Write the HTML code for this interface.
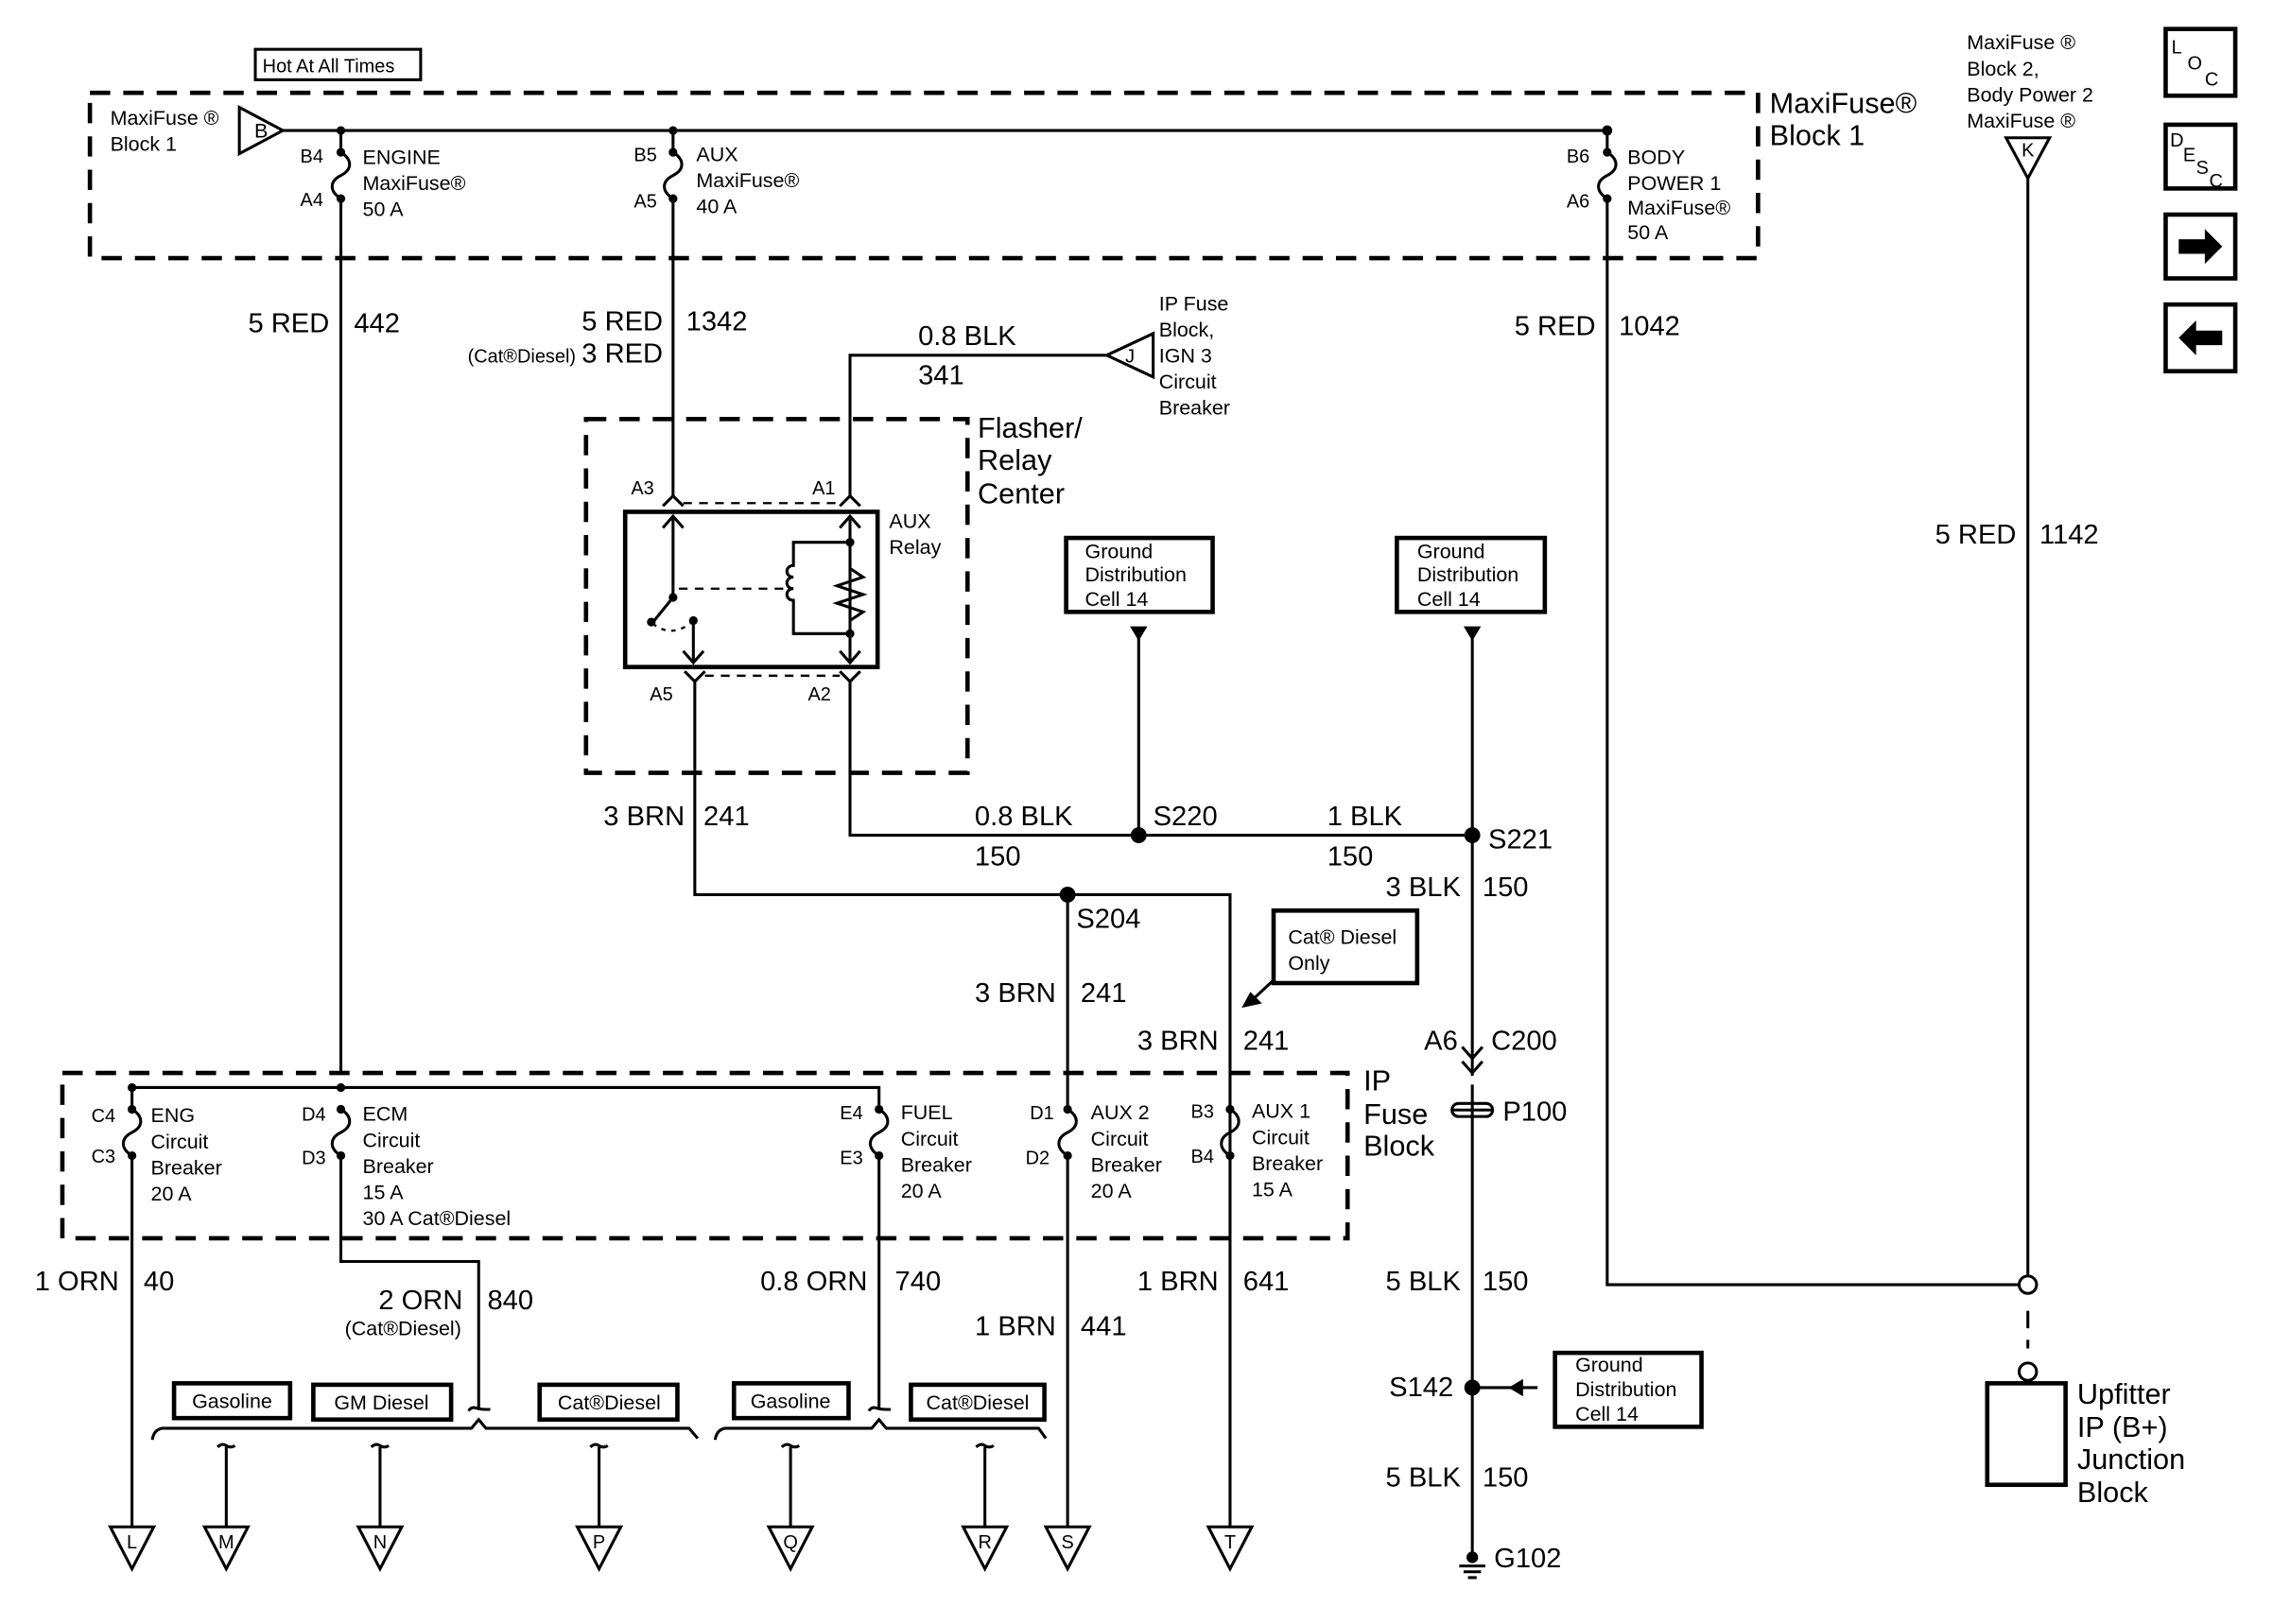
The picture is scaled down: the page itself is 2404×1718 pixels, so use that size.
<!DOCTYPE html>
<html><head><meta charset="utf-8">
<style>
html,body{margin:0;padding:0;background:#fff;}
svg{display:block;}
text{font-family:"Liberation Sans",Arial,sans-serif;fill:#000;}
.L{font-size:19px;}
.M{font-size:14px;}
.S{font-size:13px;}
.T{font-size:20px;}
</style></head><body>
<svg width="2404" height="1718" viewBox="0 0 1567 1120" preserveAspectRatio="none" xmlns="http://www.w3.org/2000/svg">
<rect x="0" y="0" width="1567" height="1120" fill="#fff"/>
<g fill="none" stroke="#000" stroke-width="2">
<rect x="62" y="64" width="1150" height="114" stroke-width="3" stroke-dasharray="14 9"/>
<rect x="404" y="289" width="263" height="244" stroke-width="3" stroke-dasharray="14 9"/>
<rect x="43" y="740" width="886" height="114" stroke-width="3" stroke-dasharray="14 9"/>
<rect x="176" y="34" width="114" height="21"/>
<polygon points="165,74 195,90 165,106"/>
<line x1="195" y1="90" x2="1108" y2="90"/>
<path d="M235,90 V105 c8,5 8,12 0,16 c-8,4 -8,11 0,16 V740"/>
<path d="M464,90 V105 c8,5 8,12 0,16 c-8,4 -8,11 0,16 V343"/>
<path d="M1108,90 V105 c8,5 8,12 0,16 c-8,4 -8,11 0,16 V886 H1392"/>
<path d="M586,343 V245 H763"/>
<polygon points="763,245 795,230 795,260"/>
<path d="M457,349 L464,342 L471,349"/>
<path d="M579,349 L586,342 L593,349"/>
<line x1="471" y1="347" x2="579" y2="347" stroke-dasharray="6 5" stroke-width="1.5"/>
<rect x="431" y="353" width="174" height="107" stroke-width="3"/>
<line x1="464" y1="357" x2="464" y2="412"/>
<path d="M457,364 L464,356 L471,364"/>
<line x1="464" y1="412" x2="451" y2="428"/>
<path d="M450,430 Q462,440 476,430" stroke-dasharray="3 4" stroke-width="1.5"/>
<line x1="478" y1="428" x2="478" y2="457"/>
<path d="M471,449 L478,457 L485,449"/>
<line x1="468" y1="406" x2="540" y2="406" stroke-dasharray="6 5" stroke-width="1.5"/>
<line x1="586" y1="357" x2="586" y2="457"/>
<path d="M579,364 L586,356 L593,364"/>
<path d="M579,449 L586,457 L593,449"/>
<path d="M586,374 H547 V390 c-6,0 -6,8 0,8 c-6,0 -6,8 0,8 c-6,0 -6,8 0,8 V437 H586"/>
<path d="M586,392 L595,398 L577,404 L595,410 L577,416 L595,422 L586,428" fill="none"/>
<path d="M472,463 L479,470 L486,463"/>
<path d="M579,463 L586,470 L593,463"/>
<line x1="486" y1="466" x2="579" y2="466" stroke-dasharray="6 5" stroke-width="1.5"/>
<path d="M479,470 V617 H848 V1053"/>
<path d="M586,470 V576 H1015"/>
<rect x="735" y="371" width="101" height="51" stroke-width="3"/>
<rect x="963" y="371" width="102" height="51" stroke-width="3"/>
<line x1="785" y1="440" x2="785" y2="576"/>
<path d="M1015,440 V742 M1015,748 V1072"/>
<path d="M1008,722 L1015,730 L1022,722 M1008,732 L1015,740 L1022,732"/>
<rect x="1001" y="761" width="28" height="9" rx="4.5"/>
<line x1="1001" y1="765.5" x2="1029" y2="765.5"/>
<line x1="1006" y1="1080" x2="1024" y2="1080"/>
<line x1="1009" y1="1084" x2="1021" y2="1084"/>
<line x1="1012" y1="1088" x2="1018" y2="1088"/>
<rect x="1072" y="933" width="101" height="51" stroke-width="3"/>
<line x1="1015" y1="957" x2="1060" y2="957"/>
<rect x="878" y="628" width="99" height="50" stroke-width="3"/>
<line x1="878" y1="676" x2="864" y2="689"/>
<path d="M91,765 V750 H606 V765"/>
<path d="M91,765 c8,5 8,12 0,16 c-8,4 -8,11 0,16 V1053"/>
<path d="M235,765 c8,5 8,12 0,16 c-8,4 -8,11 0,16 V870 H330 V972"/>
<path d="M606,765 c8,5 8,12 0,16 c-8,4 -8,11 0,16 V972"/>
<path d="M736,617 V765 c8,5 8,12 0,16 c-8,4 -8,11 0,16 V1053"/>
<path d="M848,765 c8,5 8,12 0,16 c-8,4 -8,11 0,16"/>
<path d="M323,973 q2,-3 5,-2 q3,1 7,1 H338"/>
<path d="M599,973 q2,-3 5,-2 q3,1 7,1 H614"/>
<path d="M105,993 Q106,986 112,985 H325 L330,979 L335,985 H475 L481,992"/>
<path d="M493,993 Q494,986 500,985 H601 L606,979 L611,985 H716 L721,992"/>
<rect x="120" y="954" width="80" height="24" stroke-width="3"/>
<rect x="216" y="955" width="95" height="24" stroke-width="3"/>
<rect x="372" y="955" width="95" height="24" stroke-width="3"/>
<rect x="506" y="954" width="79" height="24" stroke-width="3"/>
<rect x="628" y="955" width="92" height="24" stroke-width="3"/>
<path d="M150,998 q3,-3 6,-1 q3,2 6,0 M156,998 V1053"/>
<path d="M256,998 q3,-3 6,-1 q3,2 6,0 M262,998 V1053"/>
<path d="M407,998 q3,-3 6,-1 q3,2 6,0 M413,998 V1053"/>
<path d="M539,998 q3,-3 6,-1 q3,2 6,0 M545,998 V1053"/>
<path d="M673,998 q3,-3 6,-1 q3,2 6,0 M679,998 V1053"/>
<polygon points="76,1053 106,1053 91,1082"/>
<polygon points="141,1053 171,1053 156,1082"/>
<polygon points="247,1053 277,1053 262,1082"/>
<polygon points="398,1053 428,1053 413,1082"/>
<polygon points="530,1053 560,1053 545,1082"/>
<polygon points="664,1053 694,1053 679,1082"/>
<polygon points="721,1053 751,1053 736,1082"/>
<polygon points="833,1053 863,1053 848,1082"/>
<polygon points="1383,95 1413,95 1398,123"/>
<line x1="1398" y1="123" x2="1398" y2="880"/>
<circle cx="1398" cy="886" r="6"/>
<line x1="1398" y1="904" x2="1398" y2="930" stroke-dasharray="12 8"/>
<circle cx="1398" cy="946" r="6"/>
<rect x="1370" y="954" width="54" height="70" stroke-width="3"/>
<rect x="1493" y="20" width="48" height="46" stroke-width="3"/>
<rect x="1493" y="86" width="48" height="44" stroke-width="3"/>
<rect x="1493" y="148" width="48" height="44" stroke-width="3"/>
<rect x="1493" y="210" width="48" height="46" stroke-width="3"/>
</g>
<g fill="#000">
<circle cx="235" cy="90" r="3"/><circle cx="464" cy="90" r="3"/><circle cx="1108" cy="90" r="3.5"/>
<circle cx="235" cy="105" r="3"/><circle cx="235" cy="137" r="3"/>
<circle cx="464" cy="105" r="3"/><circle cx="464" cy="137" r="3"/>
<circle cx="1108" cy="105" r="3"/><circle cx="1108" cy="137" r="3"/>
<circle cx="464" cy="412" r="3"/><circle cx="449" cy="429" r="3"/><circle cx="478" cy="428" r="3"/>
<circle cx="586" cy="374" r="3"/><circle cx="586" cy="437" r="3"/>
<circle cx="785" cy="576" r="5.5"/><circle cx="1015" cy="576" r="5.5"/><circle cx="736" cy="617" r="5.5"/>
<circle cx="1015" cy="957" r="5.5"/><circle cx="1015" cy="1074" r="4"/>
<polygon points="779,432 791,432 785,442"/>
<polygon points="1009,432 1021,432 1015,442"/>
<polygon points="1050,951 1050,963 1040,957"/>
<polygon points="856,695 870,692 862,684"/>
<circle cx="91" cy="750" r="3"/><circle cx="91" cy="797" r="3"/>
<circle cx="235" cy="750" r="3"/><circle cx="235" cy="765" r="3"/><circle cx="235" cy="797" r="3"/>
<circle cx="606" cy="765" r="3"/><circle cx="606" cy="797" r="3"/>
<circle cx="736" cy="765" r="3"/><circle cx="736" cy="797" r="3"/>
<circle cx="848" cy="765" r="3"/><circle cx="848" cy="797" r="3"/>
<circle cx="91" cy="765" r="3"/>
<polygon points="1502,165 1520,165 1520,158 1532,170 1520,182 1520,175 1502,175"/>
<polygon points="1532,228 1514,228 1514,221 1502,233 1514,245 1514,238 1532,238"/>
</g>
<text x="181" y="50" class="S">Hot At All Times</text>
<text x="76" y="86" class="M">MaxiFuse ®</text>
<text x="76" y="104" class="M">Block 1</text>
<text x="180" y="95" class="M" text-anchor="middle">B</text>
<text x="207" y="112" class="S">B4</text><text x="207" y="142" class="S">A4</text>
<text x="250" y="113" class="M">ENGINE</text><text x="250" y="131" class="M">MaxiFuse®</text><text x="250" y="149" class="M">50 A</text>
<text x="437" y="111" class="S">B5</text><text x="437" y="143" class="S">A5</text>
<text x="480" y="111" class="M">AUX</text><text x="480" y="129" class="M">MaxiFuse®</text><text x="480" y="147" class="M">40 A</text>
<text x="1080" y="112" class="S">B6</text><text x="1080" y="143" class="S">A6</text>
<text x="1122" y="113" class="M">BODY</text><text x="1122" y="131" class="M">POWER 1</text><text x="1122" y="148" class="M">MaxiFuse®</text><text x="1122" y="165" class="M">50 A</text>
<text x="1220" y="78" class="T">MaxiFuse®</text><text x="1220" y="100" class="T">Block 1</text>
<text x="227" y="229" class="L" text-anchor="end">5 RED</text><text x="244" y="229" class="L">442</text>
<text x="457" y="228" class="L" text-anchor="end">5 RED</text><text x="473" y="228" class="L">1342</text>
<text x="397" y="250" class="S" text-anchor="end">(Cat®Diesel)</text><text x="457" y="250" class="L" text-anchor="end">3 RED</text>
<text x="1100" y="231" class="L" text-anchor="end">5 RED</text><text x="1116" y="231" class="L">1042</text>
<text x="633" y="238" class="L">0.8 BLK</text><text x="633" y="265" class="L">341</text>
<text x="779" y="250" class="S" text-anchor="middle">J</text>
<text x="799" y="214" class="M">IP Fuse</text><text x="799" y="232" class="M">Block,</text><text x="799" y="250" class="M">IGN 3</text><text x="799" y="268" class="M">Circuit</text><text x="799" y="286" class="M">Breaker</text>
<text x="674" y="302" class="T">Flasher/</text><text x="674" y="324" class="T">Relay</text><text x="674" y="347" class="T">Center</text>
<text x="435" y="341" class="S">A3</text><text x="560" y="341" class="S">A1</text>
<text x="613" y="364" class="M">AUX</text><text x="613" y="382" class="M">Relay</text>
<text x="448" y="483" class="S">A5</text><text x="557" y="483" class="S">A2</text>
<text x="748" y="385" class="M">Ground</text><text x="748" y="401" class="M">Distribution</text><text x="748" y="418" class="M">Cell 14</text>
<text x="977" y="385" class="M">Ground</text><text x="977" y="401" class="M">Distribution</text><text x="977" y="418" class="M">Cell 14</text>
<text x="472" y="569" class="L" text-anchor="end">3 BRN</text><text x="485" y="569" class="L">241</text>
<text x="672" y="569" class="L">0.8 BLK</text><text x="672" y="597" class="L">150</text>
<text x="795" y="569" class="L">S220</text>
<text x="915" y="569" class="L">1 BLK</text><text x="915" y="597" class="L">150</text>
<text x="1026" y="585" class="L">S221</text>
<text x="1007" y="618" class="L" text-anchor="end">3 BLK</text><text x="1022" y="618" class="L">150</text>
<text x="742" y="640" class="L">S204</text>
<text x="888" y="651" class="M">Cat® Diesel</text><text x="888" y="669" class="M">Only</text>
<text x="728" y="691" class="L" text-anchor="end">3 BRN</text><text x="745" y="691" class="L">241</text>
<text x="840" y="724" class="L" text-anchor="end">3 BRN</text><text x="857" y="724" class="L">241</text>
<text x="1005" y="724" class="L" text-anchor="end">A6</text><text x="1028" y="724" class="L">C200</text>
<text x="1036" y="773" class="L">P100</text>
<text x="940" y="752" class="T">IP</text><text x="940" y="775" class="T">Fuse</text><text x="940" y="797" class="T">Block</text>
<text x="63" y="774" class="S">C4</text><text x="63" y="802" class="S">C3</text>
<text x="104" y="774" class="M">ENG</text><text x="104" y="792" class="M">Circuit</text><text x="104" y="810" class="M">Breaker</text><text x="104" y="828" class="M">20 A</text>
<text x="208" y="773" class="S">D4</text><text x="208" y="803" class="S">D3</text>
<text x="250" y="773" class="M">ECM</text><text x="250" y="791" class="M">Circuit</text><text x="250" y="809" class="M">Breaker</text><text x="250" y="827" class="M">15 A</text><text x="250" y="845" class="M">30 A Cat®Diesel</text>
<text x="579" y="772" class="S">E4</text><text x="579" y="803" class="S">E3</text>
<text x="621" y="772" class="M">FUEL</text><text x="621" y="790" class="M">Circuit</text><text x="621" y="808" class="M">Breaker</text><text x="621" y="826" class="M">20 A</text>
<text x="710" y="772" class="S">D1</text><text x="707" y="803" class="S">D2</text>
<text x="752" y="772" class="M">AUX 2</text><text x="752" y="790" class="M">Circuit</text><text x="752" y="808" class="M">Breaker</text><text x="752" y="826" class="M">20 A</text>
<text x="821" y="771" class="S">B3</text><text x="821" y="802" class="S">B4</text>
<text x="863" y="771" class="M">AUX 1</text><text x="863" y="789" class="M">Circuit</text><text x="863" y="807" class="M">Breaker</text><text x="863" y="825" class="M">15 A</text>
<text x="82" y="890" class="L" text-anchor="end">1 ORN</text><text x="99" y="890" class="L">40</text>
<text x="319" y="903" class="L" text-anchor="end">2 ORN</text><text x="336" y="903" class="L">840</text>
<text x="318" y="921" class="M" text-anchor="end">(Cat®Diesel)</text>
<text x="598" y="890" class="L" text-anchor="end">0.8 ORN</text><text x="617" y="890" class="L">740</text>
<text x="840" y="890" class="L" text-anchor="end">1 BRN</text><text x="857" y="890" class="L">641</text>
<text x="728" y="921" class="L" text-anchor="end">1 BRN</text><text x="745" y="921" class="L">441</text>
<text x="1007" y="890" class="L" text-anchor="end">5 BLK</text><text x="1022" y="890" class="L">150</text>
<text x="1002" y="963" class="L" text-anchor="end">S142</text>
<text x="1086" y="946" class="M">Ground</text><text x="1086" y="963" class="M">Distribution</text><text x="1086" y="980" class="M">Cell 14</text>
<text x="1007" y="1025" class="L" text-anchor="end">5 BLK</text><text x="1022" y="1025" class="L">150</text>
<text x="1030" y="1081" class="L">G102</text>
<text x="160" y="971" class="M" text-anchor="middle">Gasoline</text>
<text x="263" y="972" class="M" text-anchor="middle">GM Diesel</text>
<text x="420" y="972" class="M" text-anchor="middle">Cat®Diesel</text>
<text x="545" y="971" class="M" text-anchor="middle">Gasoline</text>
<text x="674" y="972" class="M" text-anchor="middle">Cat®Diesel</text>
<text x="91" y="1068" class="S" text-anchor="middle">L</text>
<text x="156" y="1068" class="S" text-anchor="middle">M</text>
<text x="262" y="1068" class="S" text-anchor="middle">N</text>
<text x="413" y="1068" class="S" text-anchor="middle">P</text>
<text x="545" y="1068" class="S" text-anchor="middle">Q</text>
<text x="679" y="1068" class="S" text-anchor="middle">R</text>
<text x="736" y="1068" class="S" text-anchor="middle">S</text>
<text x="848" y="1068" class="S" text-anchor="middle">T</text>
<text x="1356" y="34" class="M">MaxiFuse ®</text><text x="1356" y="52" class="M">Block 2,</text><text x="1356" y="70" class="M">Body Power 2</text><text x="1356" y="88" class="M">MaxiFuse ®</text>
<text x="1398" y="108" class="S" text-anchor="middle">K</text>
<text x="1390" y="375" class="L" text-anchor="end">5 RED</text><text x="1406" y="375" class="L">1142</text>
<text x="1432" y="968" class="T">Upfitter</text><text x="1432" y="991" class="T">IP (B+)</text><text x="1432" y="1013" class="T">Junction</text><text x="1432" y="1036" class="T">Block</text>
<text x="1497" y="37" class="S">L</text><text x="1508" y="48" class="S">O</text><text x="1520" y="59" class="S">C</text>
<text x="1496" y="101" class="S">D</text><text x="1505" y="111" class="S">E</text><text x="1514" y="120" class="S">S</text><text x="1523" y="129" class="S">C</text>
</svg>
</body></html>
